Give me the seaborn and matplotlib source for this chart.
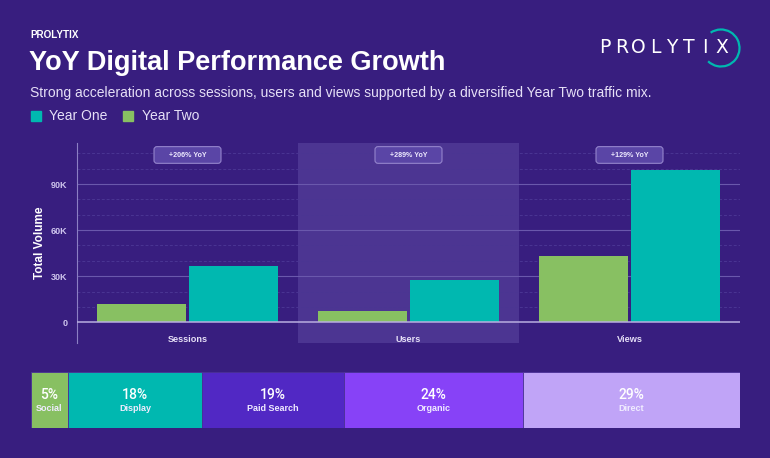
import numpy as np
import pandas as pd
import seaborn as sns
import matplotlib.pyplot as plt
from matplotlib.patches import Arc, Rectangle, FancyBboxPatch
from matplotlib.transforms import ScaledTranslation

# data
metrics = ["Sessions", "Users", "Views"]
year_one = [36700, 27600, 99200]
year_two = [12000, 7100, 43300]
yoy_labels = ["+206% YoY", "+289% YoY", "+129% YoY"]

channels = ["Social", "Display", "Paid Search", "Organic", "Direct"]
channel_share = [5, 18, 19, 24, 29]

BG = "#381e7f"
TEAL = "#00b8b0"
GREEN = "#88c062"
TXT = "#ffffff"
SOFT = "#cfc6ee"
channel_colors = ["#88c062", "#00b8b0", "#5128c4", "#8742f7", "#c0a4f7"]

sns.set_theme(style="white")
plt.rcParams["font.family"] = ["Liberation Sans", "DejaVu Sans"]

df = pd.DataFrame({
    "metric": metrics * 2,
    "year": ["Year One"] * 3 + ["Year Two"] * 3,
    "value": year_one + year_two,
})

fig = plt.figure(figsize=(7.7, 4.58), dpi=100, facecolor=BG)

# header
fig.text(30 / 770, 1 - 35 / 458, "PROLYTIX", color=TXT, fontsize=7.1,
         fontweight="bold", va="center", ha="left")
fig.text(29 / 770, 1 - 63 / 458, "YoY Digital Performance Growth", color=TXT,
         fontsize=19.5, fontweight="bold", va="center", ha="left")
fig.text(30 / 770, 1 - 93 / 458,
         "Strong acceleration across sessions, users and views supported by a diversified Year Two traffic mix.",
         color="#e6e0f7", fontsize=10.0, va="center", ha="left")

# legend
for x0, lab, col in [(30.5, "Year One", TEAL), (123, "Year Two", GREEN)]:
    fig.patches.append(Rectangle((x0 / 770, 1 - 121 / 458), 10 / 770, 10 / 458,
                                 transform=fig.transFigure, color=col,
                                 figure=fig))
    fig.text((x0 + 19) / 770, 1 - 116 / 458, lab, color="#e6e0f7", fontsize=10.0,
             va="center", ha="left")

# logo
logo = "PROLYTIX"
xs = np.linspace(605, 722, len(logo))
for ch, xx in zip(logo, xs):
    fig.text(xx / 770, 1 - 47.5 / 458, ch, color=TXT, fontsize=13.5,
             family=["DejaVu Sans"], va="center", ha="center")
fig.patches.append(Arc((721 / 770, 1 - 48 / 458), 37 / 770, 37 / 458,
                       theta1=-120, theta2=112, transform=fig.transFigure,
                       color=TEAL, lw=1.6, figure=fig))

# main chart
ax = fig.add_axes([77 / 770, 1 - 343 / 458, 663 / 770, 200 / 458])
ax.set_facecolor(BG)
ax.axvspan(0.5, 1.5, color="#4c3592", zorder=0, lw=0)
for y in range(10000, 120000, 10000):
    if y % 30000 == 0:
        ax.axhline(y, color="#6a58ac", lw=0.8, zorder=1)
    else:
        ax.axhline(y, color="#4a3593", lw=0.7, ls=(0, (3, 2)), zorder=1)

sns.barplot(data=df, x="metric", y="value", hue="year",
            hue_order=["Year Two", "Year One"], order=metrics,
            palette={"Year One": TEAL, "Year Two": GREEN},
            width=0.83, gap=0.035, legend=False, ax=ax, zorder=3,
            linewidth=0, saturation=1)

ax.axhline(0, color="#b9aee0", lw=1.1, zorder=4)
ax.set_xlim(-0.5, 2.5)
ax.set_ylim(-13500, 116700)
ax.set_yticks([0, 30000, 60000, 90000])
ax.set_yticklabels(["0", "30K", "60K", "90K"], color=SOFT, fontsize=6.5,
                   fontweight="bold")
ax.tick_params(axis="y", length=0, pad=7)
ax.set_xticks([])
ax.set_xlabel("")
ax.set_ylabel("Total Volume", color=TXT, fontsize=8.5, fontweight="bold",
              labelpad=3)
for s in ["top", "right", "bottom"]:
    ax.spines[s].set_visible(False)
ax.spines["left"].set_color("#8c7fc4")
ax.spines["left"].set_linewidth(0.8)

bw, bh = 0.67, 0.167  # badge size in inches
for i, m in enumerate(metrics):
    ax.text(i, -10900, m, color="#e6e0f7", fontsize=6.6, fontweight="bold",
            ha="center", va="center")
    tr = fig.dpi_scale_trans + ScaledTranslation(i, 108900, ax.transData)
    ax.add_patch(FancyBboxPatch((-bw / 2, -bh / 2), bw, bh,
                                boxstyle="round,pad=0,rounding_size=0.03",
                                transform=tr, fc="#5a45a6", ec="#9484cc",
                                lw=0.8, zorder=5, clip_on=False))
    ax.text(i, 108900, yoy_labels[i], color="#eeeaff", fontsize=5.1,
            fontweight="bold", ha="center", va="center_baseline", zorder=6)

# traffic mix strip
ax2 = fig.add_axes([30.5 / 770, 1 - 428 / 458, 709.2 / 770, 56 / 458])
ax2.set_facecolor(BG)
lefts = np.concatenate([[0], np.cumsum(channel_share)[:-1]])
ax2.barh([0] * len(channels), channel_share, left=lefts, height=1,
         color=channel_colors, edgecolor="#4a3196", lw=0.6)
for lab, share, l0 in zip(channels, channel_share, lefts):
    cx = l0 + share / 2
    ax2.text(cx, 0.095, f"{share}%", color=TXT, fontsize=10,
             family=["Roboto", "DejaVu Sans"], fontweight="medium",
             ha="center", va="center")
    ax2.text(cx, -0.155, lab, color="#f0ecff", fontsize=6.5, fontweight="bold",
             ha="center", va="center")
ax2.set_xlim(0, sum(channel_share))
ax2.set_ylim(-0.5, 0.5)
ax2.axis("off")

fig.savefig("out.png", dpi=100, facecolor=BG)
